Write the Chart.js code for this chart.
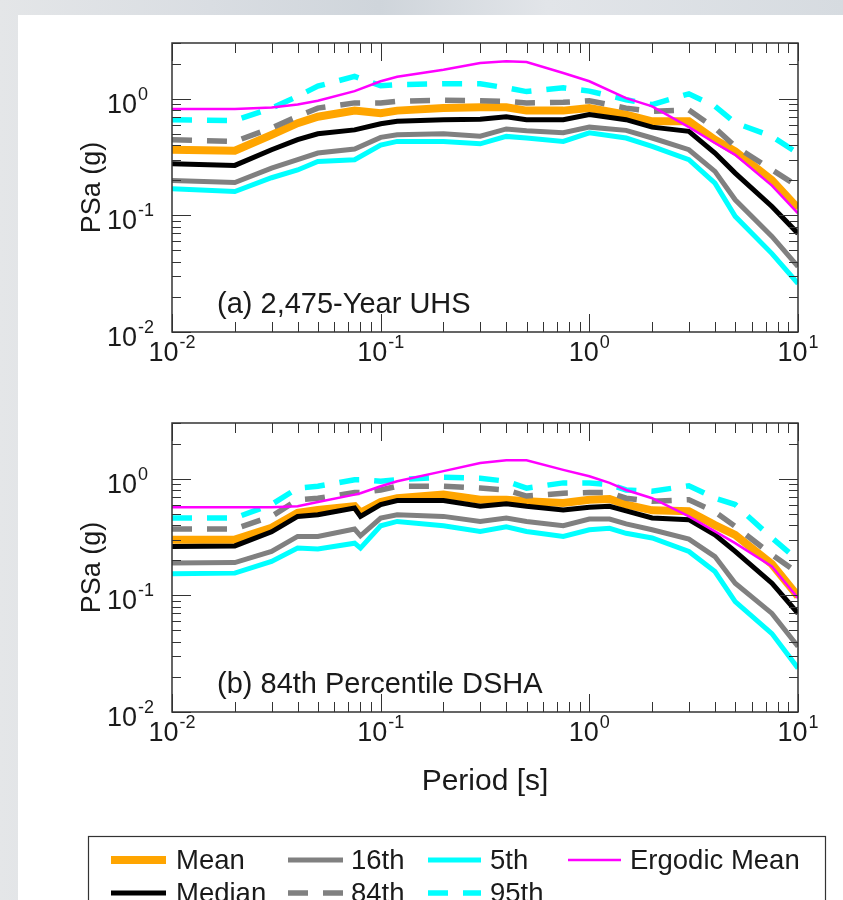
<!DOCTYPE html>
<html>
<head>
<meta charset="utf-8">
<script src="https://cdn.jsdelivr.net/npm/chart.js@4.4.1/dist/chart.umd.min.js"></script>
<style>
  html, body { margin: 0; padding: 0; }
  body {
    width: 843px; height: 900px; overflow: hidden; position: relative;
    background: linear-gradient(90deg, #e4e6e8 0%, #d9dde2 25%, #cfd5db 45%, #e2e5e9 65%, #d6dbe0 100%);
  }
  #sheet { position: absolute; left: 18px; top: 15px; right: 0; bottom: 0; background: #ffffff; }
  .panel { position: absolute; left: 0; }
  #panelA { top: 0; }
  #panelB { top: 380px; }
  #legend { position: absolute; left: 0; top: 800px; }
</style>
</head>
<body>
<div id="sheet"></div>
<canvas id="panelA" class="panel" width="843" height="400"></canvas>
<canvas id="panelB" class="panel" width="843" height="420"></canvas>
<canvas id="legend" width="843" height="100"></canvas>
<script>
// PSa spectra – (a) 2,475-year UHS, (b) 84th percentile DSHA

const FONT = '"Liberation Sans", Arial, Helvetica, sans-serif';

// (a) 2,475-Year UHS
const periodsA = [0.01, 0.02, 0.03, 0.04, 0.05, 0.075, 0.1, 0.12, 0.2, 0.3, 0.4, 0.5, 0.75, 1, 1.5, 2, 3, 4, 5, 7.5, 10];
const meanA = [0.365, 0.358, 0.49, 0.616, 0.7, 0.79, 0.75, 0.79, 0.83, 0.845, 0.845, 0.79, 0.79, 0.83, 0.73, 0.64, 0.64, 0.445, 0.353, 0.2, 0.115];
const medianA = [0.277, 0.268, 0.365, 0.445, 0.5, 0.54, 0.61, 0.64, 0.66, 0.665, 0.7, 0.66, 0.66, 0.73, 0.66, 0.57, 0.525, 0.342, 0.23, 0.119, 0.07];
const p16A = [0.199, 0.191, 0.254, 0.3, 0.342, 0.37, 0.466, 0.49, 0.5, 0.477, 0.55, 0.53, 0.51, 0.57, 0.535, 0.46, 0.365, 0.238, 0.136, 0.066, 0.0364];
const p84A = [0.445, 0.43, 0.56, 0.705, 0.83, 0.92, 0.92, 0.95, 0.97, 0.96, 0.95, 0.92, 0.93, 0.96, 0.83, 0.78, 0.8, 0.56, 0.39, 0.246, 0.177];
const p5A = [0.169, 0.16, 0.21, 0.245, 0.29, 0.3, 0.4, 0.43, 0.43, 0.41, 0.475, 0.46, 0.43, 0.51, 0.46, 0.39, 0.3, 0.189, 0.098, 0.047, 0.026];
const p95A = [0.66, 0.65, 0.83, 1.05, 1.28, 1.55, 1.29, 1.32, 1.34, 1.34, 1.24, 1.15, 1.24, 1.16, 0.98, 0.89, 1.1, 0.86, 0.62, 0.475, 0.34];
const ergodicA = [0.815, 0.815, 0.84, 0.89, 0.96, 1.16, 1.41, 1.54, 1.77, 2.02, 2.09, 2.06, 1.66, 1.41, 1.01, 0.86, 0.57, 0.417, 0.33, 0.18, 0.104];

// (b) 84th Percentile DSHA
const periodsB = [0.01, 0.02, 0.03, 0.04, 0.05, 0.075, 0.08, 0.1, 0.12, 0.2, 0.3, 0.4, 0.5, 0.75, 1, 1.25, 1.5, 2, 3, 4, 5, 7.5, 10];
const meanB = [0.3, 0.3, 0.38, 0.51, 0.54, 0.58, 0.51, 0.63, 0.68, 0.73, 0.66, 0.66, 0.64, 0.62, 0.66, 0.67, 0.6, 0.535, 0.525, 0.4, 0.33, 0.185, 0.098];
const medianB = [0.262, 0.265, 0.35, 0.475, 0.49, 0.56, 0.475, 0.6, 0.65, 0.65, 0.58, 0.61, 0.58, 0.54, 0.57, 0.58, 0.53, 0.46, 0.445, 0.33, 0.238, 0.127, 0.07];
const p16B = [0.189, 0.191, 0.238, 0.32, 0.32, 0.37, 0.324, 0.46, 0.49, 0.475, 0.43, 0.46, 0.43, 0.395, 0.45, 0.45, 0.41, 0.365, 0.303, 0.215, 0.127, 0.07, 0.0364];
const p84B = [0.37, 0.37, 0.475, 0.66, 0.68, 0.76, 0.76, 0.8, 0.86, 0.86, 0.83, 0.8, 0.71, 0.75, 0.76, 0.76, 0.68, 0.64, 0.66, 0.52, 0.39, 0.223, 0.155];
const p5B = [0.153, 0.155, 0.195, 0.254, 0.25, 0.28, 0.254, 0.395, 0.43, 0.395, 0.353, 0.386, 0.353, 0.32, 0.365, 0.375, 0.34, 0.31, 0.238, 0.16, 0.0885, 0.047, 0.0237];
const p95B = [0.46, 0.46, 0.6, 0.83, 0.86, 0.98, 0.98, 0.95, 0.98, 1.03, 1.01, 0.95, 0.83, 0.92, 0.92, 0.89, 0.8, 0.78, 0.87, 0.68, 0.6, 0.31, 0.2];
const ergodicB = [0.57, 0.57, 0.57, 0.58, 0.63, 0.73, 0.75, 0.86, 0.95, 1.16, 1.36, 1.44, 1.44, 1.19, 1.05, 0.92, 0.8, 0.68, 0.475, 0.353, 0.28, 0.177, 0.0946];

// axis limits and decade labels
const xLimits = [0.01, 10];
const yLimits = [0.01, 3];
const xDecades = [-2, -1, 0, 1];
const yDecades = [-2, -1, 0];

// line styles, same order as the value arrays passed to makeDatasets
const styles = [
  { label: "Mean", color: "#ffa500", width: 8, dash: [], order: 7 },
  { label: "Median", color: "#000000", width: 5, dash: [], order: 6 },
  { label: "16th", color: "#808080", width: 5, dash: [], order: 5 },
  { label: "84th", color: "#808080", width: 5.5, dash: [20, 15], order: 4 },
  { label: "5th", color: "#00ffff", width: 5, dash: [], order: 3 },
  { label: "95th", color: "#00ffff", width: 5.5, dash: [20, 15], order: 2 },
  { label: "Ergodic Mean", color: "#ff00ff", width: 2.5, dash: [], order: 1 },
];

function makeDatasets(periods, columns) {
  return styles.map((s, i) => ({
    label: s.label,
    data: periods.map((t, j) => ({ x: t, y: columns[i][j] })),
    borderColor: s.color,
    backgroundColor: s.color,
    borderWidth: s.width,
    borderDash: s.dash,
    borderCapStyle: "butt",
    borderJoinStyle: "miter",
    pointRadius: 0,
    fill: false,
    tension: 0,
    order: s.order,
  }));
}

function logTicks(min, max) {
  const out = [];
  for (let e = Math.floor(Math.log10(min)); e <= Math.ceil(Math.log10(max)); e++) {
    for (let k = 1; k <= 9; k++) {
      const v = k * Math.pow(10, e);
      if (v >= min * 0.999 && v <= max * 1.001) out.push({ v, major: k === 1 });
    }
  }
  return out;
}

function drawPower(ctx, exp, x, y, align) {
  const base = "10";
  const sup = String(exp);
  ctx.font = `27px ${FONT}`;
  const wb = ctx.measureText(base).width;
  ctx.font = `18px ${FONT}`;
  const ws = ctx.measureText(sup).width;
  const left = align === "center" ? x - (wb + ws + 1) / 2 : x - wb;
  ctx.font = `27px ${FONT}`;
  ctx.fillText(base, left, y);
  ctx.font = `18px ${FONT}`;
  ctx.fillText(sup, left + wb + 1, y - 13);
}

// MATLAB-like box: ticks inside on all four sides, superscript decade labels
const matlabAxes = {
  id: "matlabAxes",
  afterDatasetsDraw(chart, args, opts) {
    const { ctx, chartArea: a, scales } = chart;
    const xs = scales.x;
    const ys = scales.y;
    ctx.save();
    ctx.strokeStyle = "#333333";
    ctx.lineWidth = 1;
    ctx.beginPath();
    for (const t of logTicks(xLimits[0], xLimits[1])) {
      const x = Math.round(xs.getPixelForValue(t.v)) + 0.5;
      const len = t.major ? 18 : 10;
      ctx.moveTo(x, a.bottom);
      ctx.lineTo(x, a.bottom - len);
      ctx.moveTo(x, a.top);
      ctx.lineTo(x, a.top + len);
    }
    for (const t of logTicks(yLimits[0], yLimits[1])) {
      const y = Math.round(ys.getPixelForValue(t.v)) + 0.5;
      const len = t.major ? 19 : 9;
      ctx.moveTo(a.left, y);
      ctx.lineTo(a.left + len, y);
      ctx.moveTo(a.right, y);
      ctx.lineTo(a.right - len, y);
    }
    ctx.stroke();
    ctx.lineWidth = 1.5;
    ctx.strokeRect(a.left, a.top, a.right - a.left, a.bottom - a.top);

    ctx.fillStyle = "#1a1a1a";
    ctx.textAlign = "left";
    ctx.textBaseline = "alphabetic";
    xDecades.forEach((e) => {
      drawPower(ctx, e, xs.getPixelForValue(Math.pow(10, e)), a.bottom + 29, "center");
    });
    yDecades.forEach((e) => {
      drawPower(ctx, e, a.left - 35, ys.getPixelForValue(Math.pow(10, e)) + 14, "right");
    });

    ctx.font = `29px ${FONT}`;
    ctx.fillText(opts.note, a.left + 45, a.bottom - 19);
    ctx.restore();
  },
};

function makePanel(canvasId, periods, columns, note, xAxisHeight, showXTitle) {
  const ctx = document.getElementById(canvasId).getContext("2d");
  return new Chart(ctx, {
    type: "line",
    data: { datasets: makeDatasets(periods, columns) },
    plugins: [matlabAxes],
    options: {
      responsive: false,
      animation: false,
      events: [],
      layout: { padding: { left: 76, top: 43, right: 45, bottom: 0 } },
      plugins: {
        legend: { display: false },
        tooltip: { enabled: false },
        matlabAxes: { note },
      },
      scales: {
        x: {
          type: "logarithmic",
          position: "bottom",
          min: xLimits[0],
          max: xLimits[1],
          grid: { display: false },
          border: { display: false },
          ticks: { display: false },
          title: {
            display: showXTitle,
            text: "Period [s]",
            color: "#1a1a1a",
            font: { family: FONT, size: 30 },
            padding: 0,
          },
          afterFit: (scale) => {
            scale.height = xAxisHeight;
          },
        },
        y: {
          type: "logarithmic",
          position: "left",
          min: yLimits[0],
          max: yLimits[1],
          grid: { display: false },
          border: { display: false },
          ticks: { display: false },
          title: {
            display: true,
            text: "PSa (g)",
            color: "#1a1a1a",
            font: { family: FONT, size: 27 },
            padding: 0,
          },
          afterFit: (scale) => {
            scale.width = 96;
          },
        },
      },
    },
  });
}

makePanel("panelA", periodsA, [meanA, medianA, p16A, p84A, p5A, p95A, ergodicA], "(a) 2,475-Year UHS", 68, false);
makePanel("panelB", periodsB, [meanB, medianB, p16B, p84B, p5B, p95B, ergodicB], "(b) 84th Percentile DSHA", 88, true);

// legend box, 4 columns x 2 rows, column-major like MATLAB
function drawLegend() {
  const ctx = document.getElementById("legend").getContext("2d");
  const top = 800;
  ctx.fillStyle = "#ffffff";
  ctx.fillRect(88, 836 - top, 737, 80);
  ctx.strokeStyle = "#333333";
  ctx.lineWidth = 1.2;
  ctx.strokeRect(88.5, 836.5 - top, 737, 80);
  const cols = [
    { x0: 111, x1: 166, tx: 176 },
    { x0: 288, x1: 343, tx: 351 },
    { x0: 428, x1: 481, tx: 490 },
    { x0: 568, x1: 621, tx: 630 },
  ];
  const rows = [860, 893];
  ctx.font = `27.5px ${FONT}`;
  ctx.textBaseline = "middle";
  styles.forEach((s, i) => {
    const c = cols[Math.floor(i / 2)];
    const y = rows[i % 2] - top;
    ctx.save();
    ctx.strokeStyle = s.color;
    ctx.lineWidth = s.width;
    ctx.setLineDash(s.dash);
    ctx.beginPath();
    ctx.moveTo(c.x0, y);
    ctx.lineTo(c.x1, y);
    ctx.stroke();
    ctx.restore();
    ctx.fillStyle = "#1a1a1a";
    ctx.fillText(s.label, c.tx, y + 1);
  });
}

drawLegend();
</script>
</body>
</html>
